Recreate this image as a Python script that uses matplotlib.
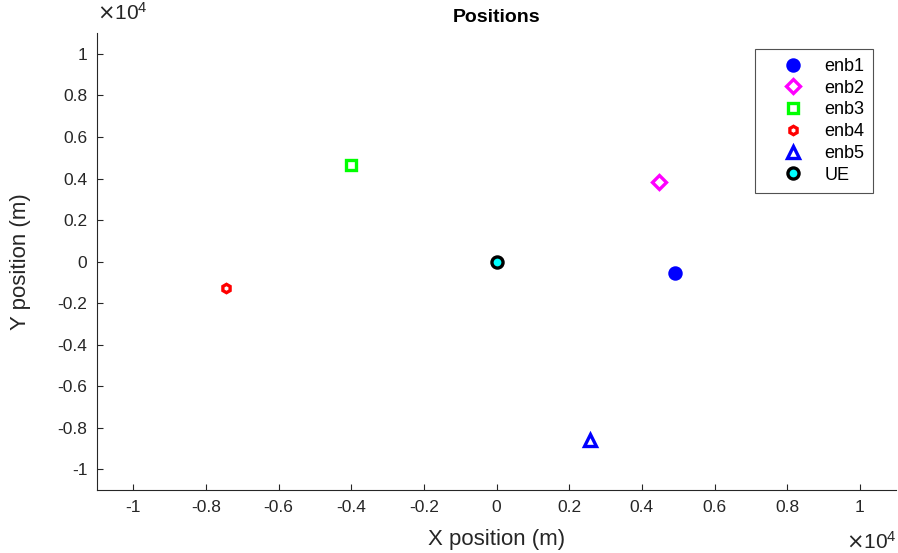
import numpy as np
from matplotlib import pyplot as plt

# node positions in metres
names = ["enb1", "enb2", "enb3", "enb4", "enb5", "UE"]
x_pos = [4900, 4480, -4000, -7460, 2560, 0]
y_pos = [-550, 3850, 4650, -1280, -8600, 0]

markers = ["o", "D", "s", "h", "^", "o"]
edge_colors = ["#0000ff", "#ff00ff", "#00ff00", "#ff0000", "#0000ff", "#000000"]
face_colors = ["#0000ff", "none", "none", "none", "none", "#00ffff"]
sizes = [8, 7, 7.5, 6, 8, 8]

tick_vals = np.round(np.arange(-1, 1.01, 0.2), 1) + 0.0

plt.rcParams.update(
    {
        "font.family": ["Liberation Sans", "DejaVu Sans"],
        "font.size": 12,
        "xtick.direction": "in",
        "ytick.direction": "in",
        "xtick.color": "#262626",
        "ytick.color": "#262626",
        "axes.edgecolor": "#262626",
    }
)

fig = plt.figure(figsize=(8.98, 5.53), dpi=100)
ax = fig.add_axes([0.108, 0.114, 0.89, 0.826])

for name, x, y, m, ec, fc, s in zip(
    names, x_pos, y_pos, markers, edge_colors, face_colors, sizes
):
    ax.plot(
        x, y, linestyle="none", marker=m, markersize=s,
        markeredgecolor=ec, markerfacecolor=fc, markeredgewidth=2.4, label=name,
    )

ax.set_xlim(-11000, 11000)
ax.set_ylim(-11000, 11000)
ax.set_xticks(tick_vals * 1e4)
ax.set_yticks(tick_vals * 1e4)
ax.set_xticklabels([f"{v:g}" for v in tick_vals])
ax.set_yticklabels([f"{v:g}" for v in tick_vals])
ax.tick_params(length=4, width=0.8, labelsize=12.5, pad=7)

ax.spines["top"].set_visible(False)
ax.spines["right"].set_visible(False)

ax.set_xlabel("X position (m)", fontsize=16, labelpad=10, color="#262626")
ax.set_ylabel("Y position (m)", fontsize=16, labelpad=19, color="#262626")
ax.set_title("Positions", fontsize=14, fontweight="bold", pad=8)

ax.text(0.0, 1.02, r"$\times\mathregular{10^4}$", transform=ax.transAxes,
        fontsize=15, ha="left", va="bottom", color="#262626")
ax.text(1.0, -0.09, r"$\times\mathregular{10^4}$", transform=ax.transAxes,
        fontsize=15, ha="right", va="top", color="#262626")

leg = ax.legend(
    loc="upper right", bbox_to_anchor=(0.9825, 0.985), frameon=True,
    fancybox=False, edgecolor="#262626", fontsize=13, handletextpad=0.15,
    labelspacing=0.26, borderpad=0.5, handlelength=3.2, borderaxespad=0.5,
)
leg.get_frame().set_linewidth(0.8)

plt.savefig("out.png", dpi=100)
